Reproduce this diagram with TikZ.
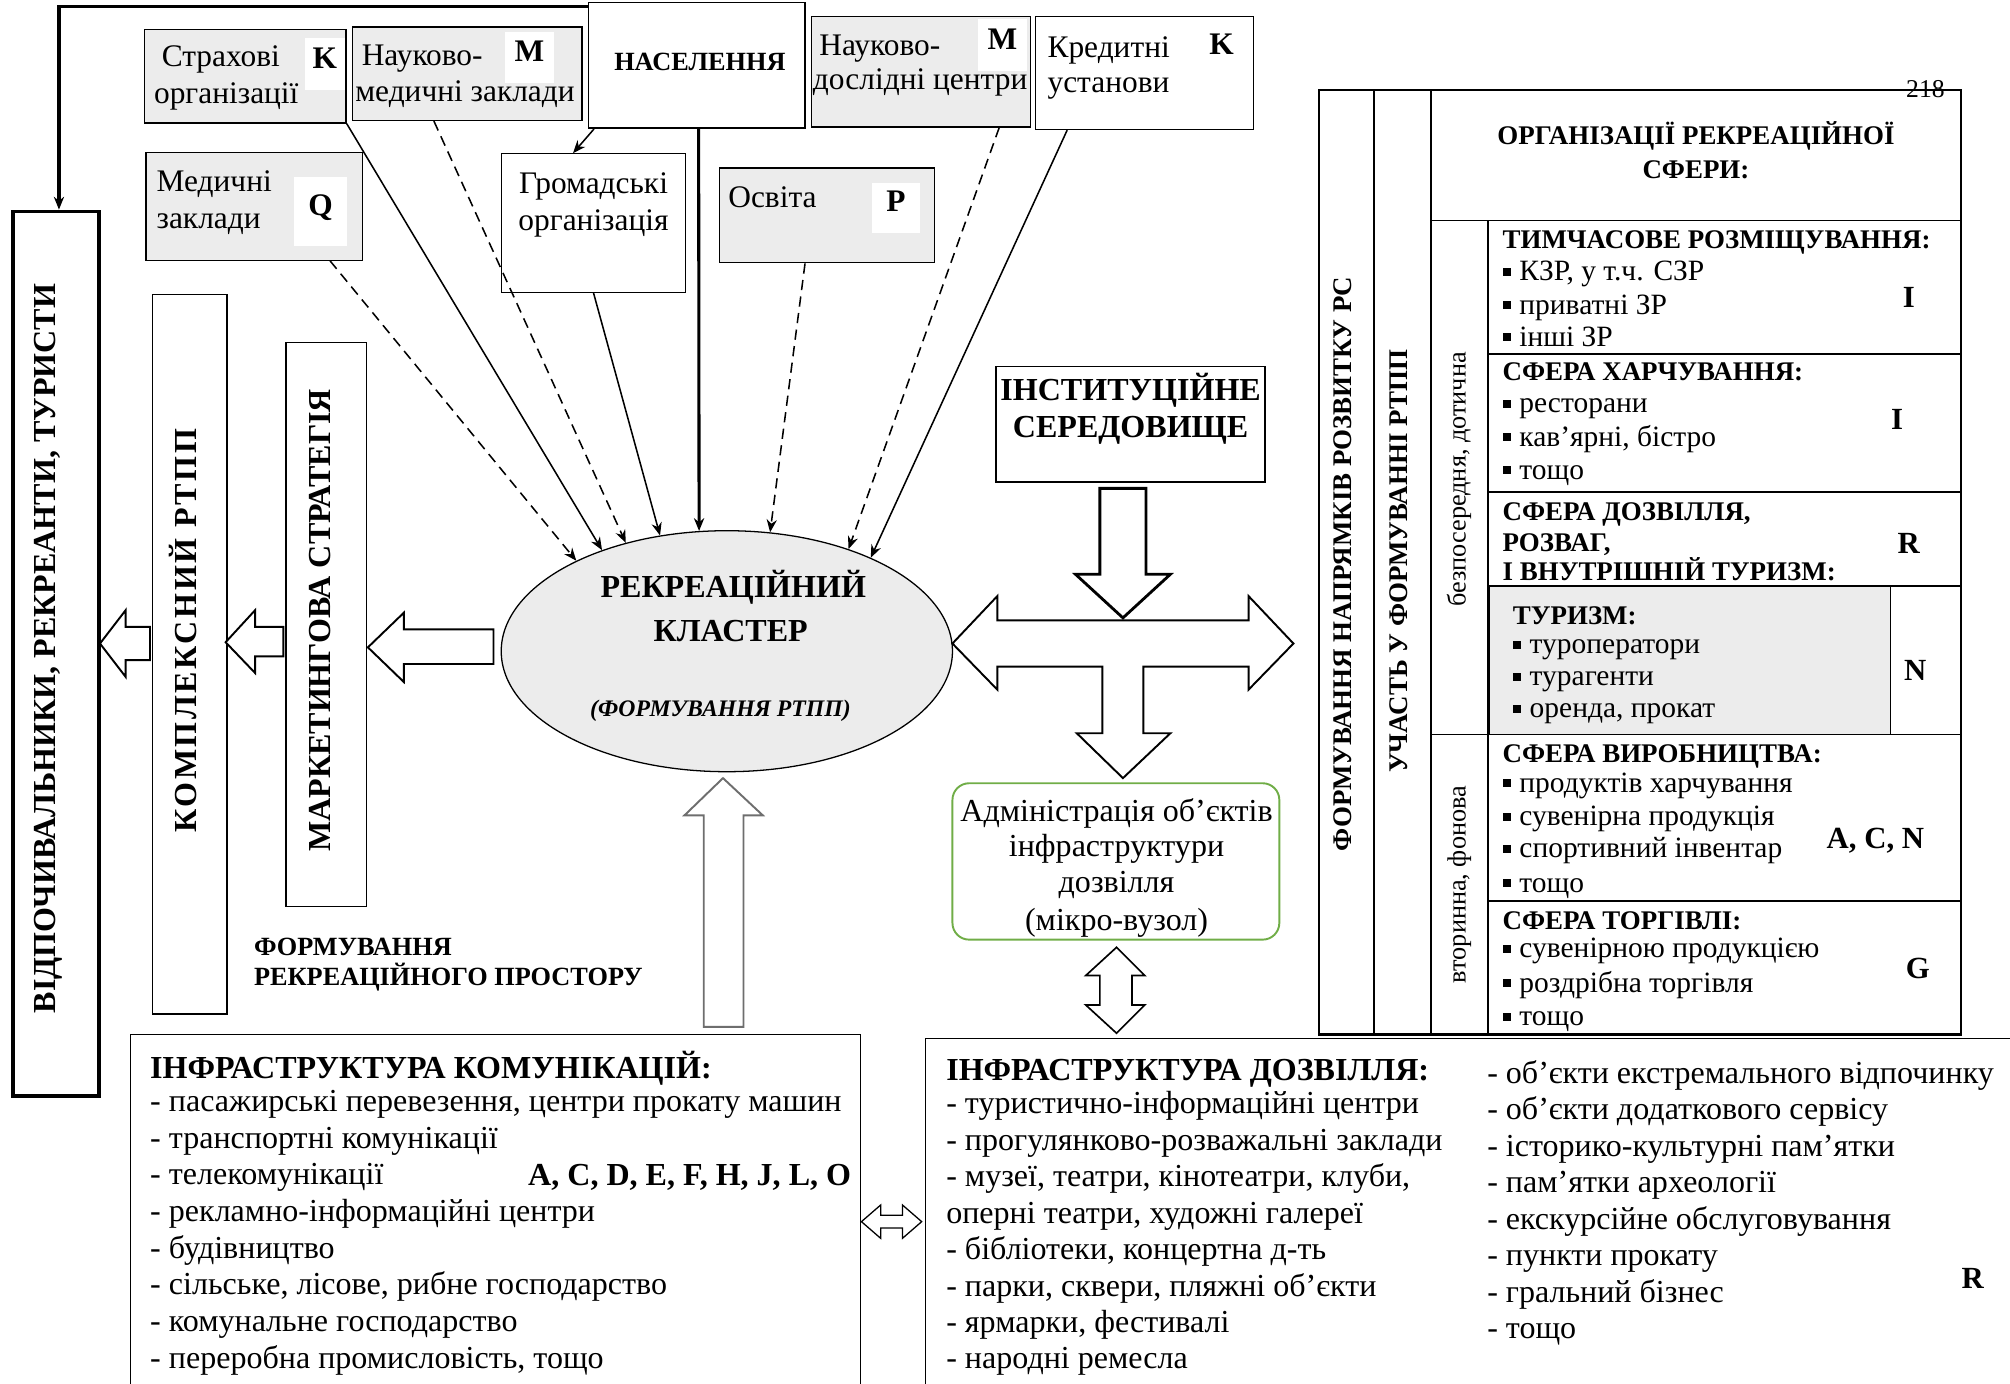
\documentclass[tikz,border=0pt]{standalone}
\usepackage{fontspec}
\setmainfont{Liberation Serif}
\newfontfamily\wideserif[LetterSpace=8]{Liberation Serif}
\usetikzlibrary{shapes.geometric,fit,arrows.meta}

\definecolor{boxgray}{HTML}{ECECEC}
\definecolor{admgreen}{HTML}{70AD47}
\definecolor{arrgray}{HTML}{6E6E6E}
\newcommand{\sqb}{\rule[0.17em]{0.27em}{0.27em}\hspace{0.3em}}
\newcommand{\fs}[1]{\fontsize{#1}{#1}\selectfont}

\tikzset{
  plainbox/.style={draw, line width=1pt, inner sep=0pt},
  graybox/.style={plainbox, fill=boxgray},
  lettbox/.style={fill=white, inner sep=0pt, text height=0.66em, text depth=0pt, font=\fs{24.5}\bfseries},
  toptxt/.style={inner sep=0pt, anchor=base west, font=\fs{24.5}},
  cc/.style={inner sep=0pt, text height=0.66em, text depth=0pt},
  tabhead/.style={inner sep=0pt, anchor=base west, font=\fs{21}\bfseries},
  tabitem/.style={inner sep=0pt, anchor=base west, font=\fs{23}},
  tabletter/.style={inner sep=0pt, anchor=base, font=\fs{24}\bfseries},
  bottxt/.style={inner sep=0pt, anchor=base west, font=\fs{25}},
  link/.style={line width=1.2pt, -{Stealth[length=10pt,width=8pt]}},
  dlink/.style={link, dash pattern=on 8pt off 5pt},
  barrow/.style={draw, line width=1.5pt, fill=white, line join=miter},
  tabline/.style={line width=1.5pt}
}

\begin{document}
\begin{tikzpicture}[x=1pt,y=-1pt]
\useasboundingbox (0,0) rectangle (1568,1079);
\clip (0,0) rectangle (1568,1079);

% organisations at the top
\node[graybox, fit={(113,23) (270,96)}] (strah) {};
\node[graybox, fit={(275,21) (454,94)}] (naukmed) {};
\node[plainbox, line width=1.3pt, fit={(459,2) (628,100)}] (nas) {};
\node[graybox, fit={(633,13) (804,99)}] (nauk) {};
\node[plainbox, fit={(808,13) (978,101)}] (kred) {};
\node[graybox, fit={(114,119) (283,203)}] (med) {};
\node[plainbox, fit={(391,120) (535,228)}] (grom) {};
\node[graybox, fit={(561,131) (729,205)}] (osv) {};

\node[toptxt] (strah-a) at (126,52) {Страхові};
\node[toptxt] (strah-b) at (120,81) {організації};
\node[lettbox, minimum width=31pt, minimum height=41pt] (strah-l) at (253.5,50) {K};
\node[toptxt] (naukmed-a) at (282,51) {Науково-};
\node[toptxt] (naukmed-b) at (277,79) {медичні заклади};
\node[lettbox, minimum width=38pt, minimum height=40pt] (naukmed-l) at (413,45) {M};
\node[cc, font=\fs{20.5}\bfseries] (nas-t) at (546,52) {НАСЕЛЕННЯ};
\node[toptxt] (nauk-a) at (639,43) {Науково-};
\node[toptxt] (nauk-b) at (634,70) {дослідні центри};
\node[lettbox, minimum width=38pt, minimum height=40pt] (nauk-l) at (782,35) {M};
\node[toptxt] (kred-a) at (817,45) {Кредитні};
\node[toptxt] (kred-b) at (817,72) {установи};
\node[lettbox] (kred-l) at (953,39) {K};
\node[toptxt] (med-a) at (122,149) {Медичні};
\node[toptxt] (med-b) at (122,178) {заклади};
\node[lettbox, minimum width=41pt, minimum height=54pt] (med-l) at (250,165) {Q};
\node[toptxt, anchor=base] (grom-a) at (463,151) {Громадські};
\node[toptxt, anchor=base] (grom-b) at (463,180) {організація};
\node[toptxt] (osv-a) at (568,162) {Освіта};
\node[lettbox, minimum width=38pt, minimum height=39pt] (osv-l) at (699,162) {P};

% cluster
\node[ellipse, draw, fill=boxgray, line width=1pt, minimum width=352pt, minimum height=188pt, inner sep=0pt] (clust) at (567,508) {};
\node[cc, font=\fs{25}\bfseries] (clust-a) at (572,463) {РЕКРЕАЦІЙНИЙ};
\node[cc, font=\fs{25}\bfseries] (clust-b) at (570,497) {КЛАСТЕР};
\node[cc, font=\fs{18.5}\bfseries\itshape] (clust-c) at (562,556) {(ФОРМУВАННЯ РТПП)};

% links into the cluster
\draw[dlink] ([xshift=-26pt]med.south east) -- (clust.149);
\draw[link] (strah.south east) -- (clust.141);
\draw[dlink] ([xshift=-26pt]naukmed.south) -- (clust.133);
\draw[link] (grom.south) -- (clust.120);
\draw[link, line width=2.4pt] ([xshift=1.5pt]nas.south) -- (clust.103);
\draw[dlink] ([xshift=-17pt]osv.south) -- (clust.70);
\draw[dlink] ([xshift=-25pt]nauk.south east) -- (clust.40);
\draw[link] ([xshift=25pt]kred.south west) -- (clust.33);
\draw[link] ([xshift=5pt]nas.south west) -- ([xshift=-16pt]grom.north);

% left column
\node[draw, line width=3pt, inner sep=0pt, fit={(10,165) (77,855)}] (vidp) {};
\node[plainbox, fit={(119,230) (177,791)}] (kompl) {};
\node[plainbox, fit={(223,267) (286,707)}] (market) {};
\node[cc, rotate=90, font=\fs{25}\bfseries] (vidp-t) at (40,506) {ВІДПОЧИВАЛЬНИКИ, РЕКРЕАНТИ, ТУРИСТИ};
\node[cc, rotate=90, font=\wideserif\fs{25}\bfseries] (kompl-t) at (150,492) {КОМПЛЕКСНИЙ РТПП};
\node[cc, rotate=90, font=\fs{25}\bfseries] (market-t) at (254.5,484) {МАРКЕТИНГОВА СТРАТЕГІЯ};
\draw[link, line width=2.4pt] ([yshift=-4pt]nas.north west) -| ([xshift=2.5pt]vidp.north);

\draw[barrow] (287,505) -- (315,478) -- (315,491) -- (385,491) -- (385,518) -- (315,518) -- (315,532) -- cycle;
\draw[barrow] (176,501) -- (199,476) -- (199,489) -- (221,489) -- (221,512) -- (199,512) -- (199,525) -- cycle;
\draw[barrow] (78,502) -- (98,476) -- (98,489) -- (117,489) -- (117,515) -- (98,515) -- (98,528) -- cycle;

\node[inner sep=0pt, anchor=base west, font=\fs{20.5}\bfseries] (prost-a) at (198,745) {ФОРМУВАННЯ};
\node[inner sep=0pt, anchor=base west, font=\fs{20.5}\bfseries] (prost-b) at (198,769) {РЕКРЕАЦІЙНОГО ПРОСТОРУ};

% institutional environment and administration
\node[plainbox, line width=1.2pt, fit={(777,286) (987,376)}] (inst) {};
\node[cc, font=\fs{25}\bfseries] (inst-a) at (882,309) {ІНСТИТУЦІЙНЕ};
\node[cc, font=\fs{25}\bfseries] (inst-b) at (882,338) {СЕРЕДОВИЩЕ};
\draw[barrow, line width=2.2pt] (858,381) -- (894,381) -- (894,448) -- (913,448) -- (876,482) -- (839,448) -- (858,448) -- cycle;
\draw[barrow] (743,502) -- (778,465) -- (778,484) -- (974,484) -- (974,465) -- (1009,502) -- (974,538) -- (974,520)
  -- (892,520) -- (892,572) -- (913,572) -- (876,607) -- (840,572) -- (860,572) -- (860,520) -- (778,520) -- (778,538) -- cycle;

\node[draw=admgreen, line width=1.5pt, rounded corners=13pt, inner sep=0pt, fit={(743,611) (998,733)}] (adm) {};
\node[inner sep=0pt, anchor=base, font=\fs{25}] (adm-a) at (871,641) {Адміністрація об’єктів};
\node[inner sep=0pt, anchor=base, font=\fs{25}] (adm-b) at (871,668) {інфраструктури};
\node[inner sep=0pt, anchor=base, font=\fs{25}] (adm-c) at (871,696) {дозвілля};
\node[inner sep=0pt, anchor=base, font=\fs{25}] (adm-d) at (871,726) {(мікро-вузол)};
\draw[barrow, line width=1.3pt] (871,739) -- (893,761) -- (883,761) -- (883,784) -- (893,784) -- (871,806) -- (847,784)
  -- (858,784) -- (858,761) -- (847,761) -- cycle;

\draw[barrow, draw=arrgray] (564,607) -- (595,636) -- (580,636) -- (580,801) -- (549,801) -- (549,636) -- (534,636) -- cycle;

% infrastructure boxes
\node[plainbox, fit={(102,807) (671,1090)}] (infkom) {};
\node[plainbox, fit={(722,810) (1585,1090)}] (infdoz) {};
\draw[barrow, line width=1pt] (672,953) -- (687,940) -- (687,948) -- (704,948) -- (704,940) -- (719,953) -- (704,966)
  -- (704,958) -- (687,958) -- (687,966) -- cycle;

\node[bottxt, font=\fs{25}\bfseries] (infkom-t) at (117,841) {ІНФРАСТРУКТУРА КОМУНІКАЦІЙ:};
\foreach \t [count=\i from 0] in {{- пасажирські перевезення, центри прокату машин}, {- транспортні комунікації},
  {- телекомунікації}, {- рекламно-інформаційні центри}, {- будівництво}, {- сільське, лісове, рибне господарство},
  {- комунальне господарство}, {- переробна промисловість, тощо}}
  \node[bottxt] (infkom-\i) at (117,867+28.6*\i) {\t};
\node[inner sep=0pt, anchor=base, font=\fs{25}\bfseries] (infkom-l) at (538,925) {A, C, D, E, F, H, J, L, O};

\node[bottxt, font=\fs{25}\bfseries] (infdoz-t) at (738,843) {ІНФРАСТРУКТУРА ДОЗВІЛЛЯ:};
\foreach \t [count=\i from 0] in {{- туристично-інформаційні центри}, {- прогулянково-розважальні заклади},
  {- музеї, театри, кінотеатри, клуби,}, {оперні театри, художні галереї}, {- бібліотеки, концертна д-ть},
  {- парки, сквери, пляжні об’єкти}, {- ярмарки, фестивалі}, {- народні ремесла}}
  \node[bottxt] (infdoz-\i) at (738,869+28.4*\i) {\t};
\foreach \t [count=\i from 0] in {{- об’єкти екстремального відпочинку}, {- об’єкти додаткового сервісу},
  {- історико-культурні пам’ятки}, {- пам’ятки археології}, {- екскурсійне обслуговування},
  {- пункти прокату}, {- гральний бізнес}, {- тощо}}
  \node[bottxt] (infdoz2-\i) at (1160,845+28.5*\i) {\t};
\node[tabletter] (infdoz-l) at (1539,1005) {R};

% table of recreation organisations
\filldraw[fill=boxgray, line width=0.8pt] (1162,457) rectangle (1475,573);
\draw[tabline, line width=1.7pt] (1029,70) rectangle (1530,807);
\draw[tabline] (1072,70) -- (1072,807);
\draw[tabline] (1116,70) -- (1116,807);
\draw[tabline] (1116,172) -- (1530,172);
\draw[tabline] (1161,172) -- (1161,807);
\draw[tabline] (1161,276) -- (1530,276);
\draw[tabline] (1161,384) -- (1530,384);
\draw[tabline] (1161,457) -- (1530,457);
\draw[tabline] (1116,573) -- (1530,573);
\draw[tabline] (1161,703) -- (1530,703);
\node[inner sep=0pt, anchor=base, font=\fs{20}] (page) at (1502,76) {218};

\node[cc, rotate=90, font=\fs{21}\bfseries] (napr) at (1051,440) {ФОРМУВАННЯ НАПРЯМКІВ РОЗВИТКУ РС};
\node[cc, rotate=90, font=\fs{21}\bfseries] (uchast) at (1095,438) {УЧАСТЬ У ФОРМУВАННІ РТПП};
\node[cc, rotate=90, font=\fs{20.5}] (bezp) at (1140,374) {безпосередня, дотична};
\node[cc, rotate=90, font=\fs{20.5}] (vtor) at (1140,690) {вторинна, фонова};

\node[inner sep=0pt, anchor=base, font=\fs{21}\bfseries] (org-a) at (1323,113) {ОРГАНІЗАЦІЇ РЕКРЕАЦІЙНОЇ};
\node[inner sep=0pt, anchor=base, font=\fs{21}\bfseries] (org-b) at (1323,139) {СФЕРИ:};

\node[tabhead] (tim) at (1172,194) {ТИМЧАСОВЕ РОЗМІЩУВАННЯ:};
\foreach \y/\t in {219/{КЗР, у т.ч. СЗР}, 245/{приватні ЗР}, 270/{інші ЗР}}
  \node[tabitem] (tim-\y) at (1172,\y) {\sqb\t};
\node[tabletter] (tim-l) at (1489,240) {I};

\node[tabhead] (harch) at (1172,297) {СФЕРА ХАРЧУВАННЯ:};
\foreach \y/\t in {322/{ресторани}, 348/{кав’ярні, бістро}, 374/{тощо}}
  \node[tabitem] (harch-\y) at (1172,\y) {\sqb\t};
\node[tabletter] (harch-l) at (1480,335) {I};

\node[tabhead] (dozv-a) at (1172,406) {СФЕРА ДОЗВІЛЛЯ,};
\node[tabhead] (dozv-b) at (1172,430) {РОЗВАГ,};
\node[tabhead] (dozv-c) at (1172,453) {І ВНУТРІШНІЙ ТУРИЗМ:};
\node[tabletter] (dozv-l) at (1489,432) {R};

\node[tabhead] (tur) at (1180,487) {ТУРИЗМ:};
\foreach \y/\t in {510/{туроператори}, 535/{турагенти}, 560/{оренда, прокат}}
  \node[tabitem] (tur-\y) at (1180,\y) {\sqb\t};
\node[tabletter] (tur-l) at (1494,531) {N};

\node[tabhead] (vyr) at (1172,595) {СФЕРА ВИРОБНИЦТВА:};
\foreach \y/\t in {618/{продуктів харчування}, 644/{сувенірна продукція}, 669/{спортивний інвентар}, 696/{тощо}}
  \node[tabitem] (vyr-\y) at (1172,\y) {\sqb\t};
\node[tabletter] (vyr-l) at (1463,662) {A, C, N};

\node[tabhead] (torg) at (1172,725) {СФЕРА ТОРГІВЛІ:};
\foreach \y/\t in {747/{сувенірною продукцією}, 774/{роздрібна торгівля}, 800/{тощо}}
  \node[tabitem] (torg-\y) at (1172,\y) {\sqb\t};
\node[tabletter] (torg-l) at (1496,763) {G};
\end{tikzpicture}
\end{document}
